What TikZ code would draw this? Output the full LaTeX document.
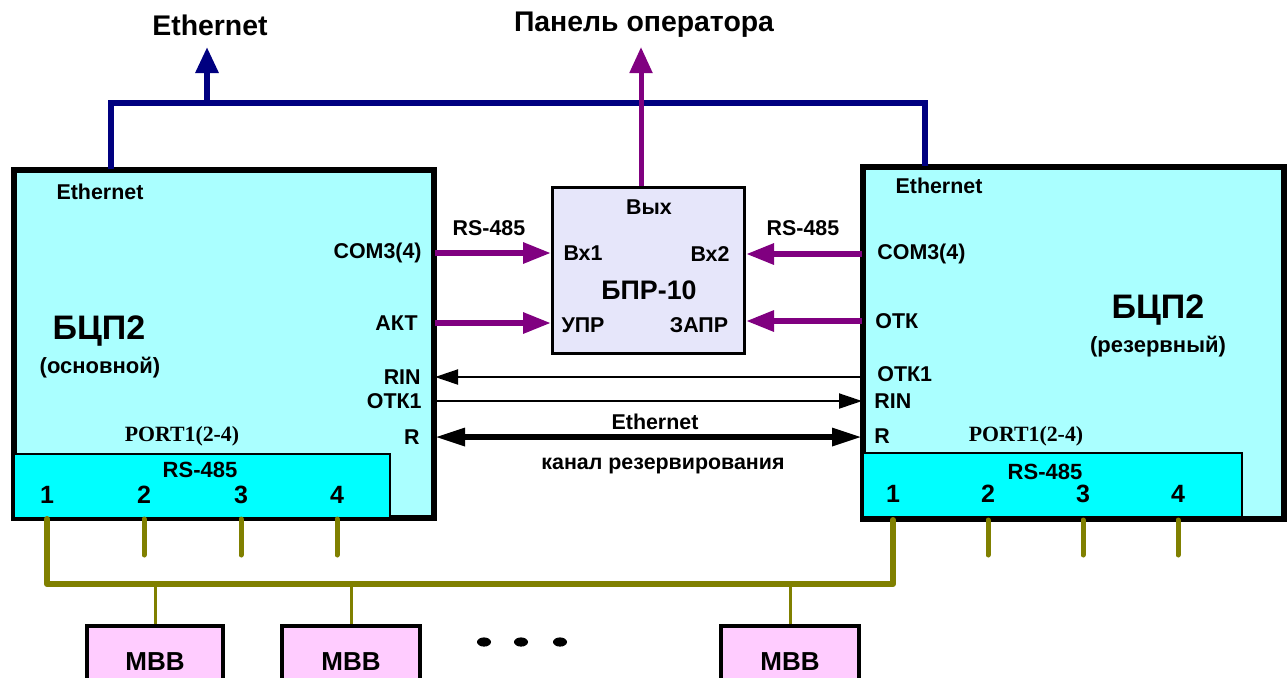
\documentclass[tikz,border=0pt]{standalone}
\usepackage{fontspec}
\setmainfont{Liberation Sans}
\newfontfamily\portfont{Liberation Serif}
\usetikzlibrary{arrows.meta,positioning,calc}
\definecolor{cpuc}{HTML}{AAFFFF}
\definecolor{portc}{HTML}{00FFFF}
\definecolor{bprc}{HTML}{E6E6FA}
\definecolor{mvvc}{HTML}{FFCCFF}
\definecolor{navyc}{HTML}{000080}
\definecolor{purpc}{HTML}{800080}
\definecolor{olivec}{HTML}{808000}
\tikzset{
  blk/.style={draw, line width=2pt, anchor=north west, inner sep=0pt},
  portblk/.style={draw, line width=1pt, fill=portc, anchor=north west, inner sep=0pt},
  lbl/.style={font=\fontsize{10.7}{12}\selectfont\bfseries, inner sep=0pt},
  title/.style={font=\fontsize{14.2}{16}\selectfont\bfseries, inner sep=0pt},
  num/.style={font=\fontsize{12.5}{14}\selectfont\bfseries, inner sep=0pt},
  portlbl/.style={font=\portfont\fontsize{10.9}{12}\selectfont\bfseries, inner sep=0pt},
  parr/.style={draw=purpc, line width=3pt, -{Triangle[length=14pt,width=10pt]}},
  tarr/.style={line width=1pt, -{Triangle[length=11.5pt,width=7.5pt]}},
  darr/.style={line width=3pt, {Triangle[length=15pt,width=8.5pt]}-{Triangle[length=15pt,width=8.5pt]}},
  eth/.style={draw=navyc, line width=3pt},
  bus/.style={draw=olivec, line width=3pt, line cap=round, line join=round},
  stub/.style={draw=olivec, line width=2.5pt, line cap=round},
  drop/.style={draw=olivec, line width=1.5pt},
}
\begin{document}
\begin{tikzpicture}[x=0.5pt,y=-0.5pt]
  \clip (0,0) rectangle (1288,677);
  % main units
  \node[blk, fill=cpuc, minimum width=209pt, minimum height=173pt] (bcpL) at (13,169) {};
  \node[blk, fill=cpuc, minimum width=209.5pt, minimum height=175pt] (bcpR) at (862,166) {};
  \node[portblk, minimum width=188pt, minimum height=32pt] (rsL) at (13,453) {};
  \node[portblk, minimum width=189.5pt, minimum height=32pt] (rsR) at (862,452) {};
  \draw[line width=2pt] (bcpL.north west) rectangle (bcpL.south east);
  \draw[line width=2pt] (bcpR.north west) rectangle (bcpR.south east);
  \node[blk, line width=1.5pt, fill=bprc, minimum width=96pt, minimum height=83pt] (bpr) at (551,186) {};

  % left unit texts
  \node[lbl] (ethL) at (100,192) {Ethernet};
  \node[font=\fontsize{17}{19}\selectfont\bfseries, inner sep=0pt] (nameL) at (99,331) {БЦП2};
  \node[lbl, font=\fontsize{11}{13}\selectfont\bfseries] (roleL) at (100,368) {(основной)};
  \node[lbl, anchor=east] (comL) at (422,253) {COM3(4)};
  \node[lbl, anchor=east] (aktL) at (418,323) {АКТ};
  \node[lbl, anchor=east] (rinL) at (421,377) {RIN};
  \node[lbl, anchor=east] (otkL) at (422,401) {ОТК1};
  \node[lbl, anchor=east] (rL) at (420,437) {R};
  \node[portlbl] (portL) at (182,436) {PORT1(2-4)};
  \node[lbl, font=\fontsize{11}{13}\selectfont\bfseries] (rsnL) at (200,470) {RS-485};
  \foreach \n/\x in {1/47,2/144,3/241,4/337}
    \node[num] (pL\n) at (\x,495) {\n};

  % right unit texts
  \node[lbl] (ethR) at (939,186) {Ethernet};
  \node[font=\fontsize{17}{19}\selectfont\bfseries, inner sep=0pt] (nameR) at (1158,310) {БЦП2};
  \node[lbl, font=\fontsize{11}{13}\selectfont\bfseries] (roleR) at (1158,347) {(резервный)};
  \node[lbl, anchor=west] (comR) at (877,254) {COM3(4)};
  \node[lbl, anchor=west] (otkR) at (875,321) {ОТК};
  \node[lbl, anchor=west] (otk1R) at (877,374) {ОТК1};
  \node[lbl, anchor=west] (rinR) at (874,401) {RIN};
  \node[lbl, anchor=west] (rR) at (874,436) {R};
  \node[portlbl] (portR) at (1026,436) {PORT1(2-4)};
  \node[lbl, font=\fontsize{11}{13}\selectfont\bfseries] (rsnR) at (1045,472) {RS-485};
  \foreach \n/\x in {1/893,2/988,3/1083,4/1178}
    \node[num] (pR\n) at (\x,494) {\n};

  % switch unit
  \node[lbl] (out) at (649,207) {Вых};
  \node[lbl] (in1) at (583,253) {Вх1};
  \node[lbl] (in2) at (710,254) {Вх2};
  \node[font=\fontsize{13.4}{15}\selectfont\bfseries, inner sep=0pt] (bprName) at (649,290) {БПР-10};
  \node[lbl] (upr) at (583,325) {УПР};
  \node[lbl] (zapr) at (699,325) {ЗАПР};

  % top
  \node[title] (ethTop) at (210,25) {Ethernet};
  \node[title] (panel) at (644,25) {Панель оператора};
  \coordinate (ethTip) at (207,47);
  \coordinate (panTip) at (641,47);
  \coordinate (busNL) at (111,103);
  \coordinate (busNR) at (925,103);
  \draw[eth] (busNL |- bcpL.north) -- (busNL) -- (busNR) -- (busNR |- bcpR.north);
  \draw[eth, -{Triangle[length=13pt,width=11pt]}] (ethTip |- busNL) -- (ethTip);
  \draw[draw=purpc, line width=2.5pt, -{Triangle[length=13pt,width=11pt]}] (panTip |- bpr.north) -- (panTip);

  % links to switch unit
  \node[lbl] (rs1) at (489,228) {RS-485};
  \node[lbl] (rs2) at (803,228) {RS-485};
  \draw[parr] (bcpL.east |- comL) -- (bpr.west |- comL);
  \draw[parr] (bcpL.east |- aktL) -- (bpr.west |- aktL);
  \draw[parr] (bcpR.west |- comR) -- (bpr.east |- comR);
  \draw[parr] (bcpR.west |- otkR) -- (bpr.east |- otkR);

  % redundancy channel
  \draw[tarr] (bcpR.west |- rinL) -- (bcpL.east |- rinL);
  \draw[tarr] (bcpL.east |- otkL) -- (bcpR.west |- otkL);
  \draw[darr] (bcpL.east |- rL) -- (bcpR.west |- rL);
  \node[lbl] (ethCh) at (655,422) {Ethernet};
  \node[lbl] (chan) at (663,466) {канал резервирования};

  % RS-485 bus
  \coordinate (busS) at (0,584);
  \draw[bus] (pL1 |- bcpL.south) -- (pL1 |- busS) -- (pR1 |- busS) -- (pR1 |- bcpR.south);
  \foreach \n in {2,3,4} {
    \draw[stub] (pL\n |- bcpL.south) -- ++(0,36);
    \draw[stub] (pR\n |- bcpR.south) -- ++(0,35);
  }
  \foreach \i/\x/\w in {1/85/68,2/280/69,3/719/69} {
    \node[blk, fill=mvvc, minimum width=\w pt, minimum height=36pt,
      font=\fontsize{13}{15}\selectfont\bfseries] (mvv\i) at (\x,624) {МВВ};
    \draw[drop] (mvv\i.north |- busS) -- (mvv\i.north);
  }
  \foreach \x in {484,521,560}
    \fill (\x,642) ellipse [x radius=3.5pt, y radius=2.3pt];
\end{tikzpicture}
\end{document}
